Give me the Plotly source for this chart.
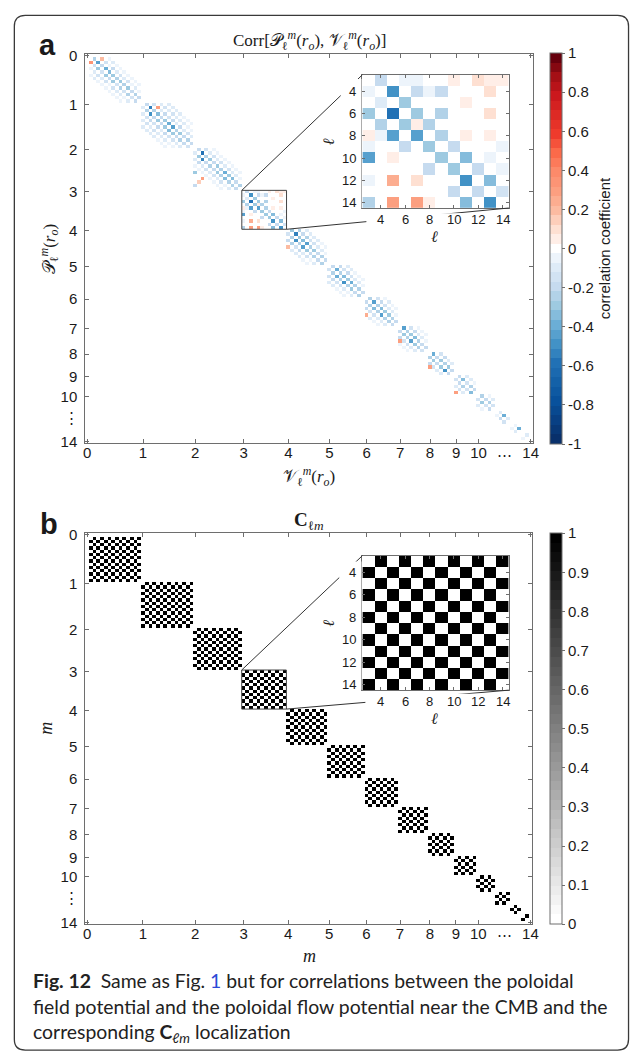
import plotly.graph_objects as go

W, H = 637, 1059

# ---------------- data ----------------
L_MAX = 14
ORDERS = list(range(0, 15))                     # m = 0 .. 14
MAIN_TICK_ORDERS = [0, 1, 2, 3, 4, 5, 6, 7, 8, 9, 10, 14]
MAIN_TICK_TEXT = ["0", "1", "2", "3", "4", "5", "6", "7", "8", "9", "10", "14"]
INSET_ORDER = 3
INSET_L = list(range(3, 15))
INSET_TICKS = [4, 6, 8, 10, 12, 14]

# correlation values along the off-diagonals (degree offset k) inside each m block
# "U": P row l, V column l+k ; "L": P row l+k, V column l ; starting at l = max(m, 1)
BAND1_U = {
    0: [-0.25, -0.45, -0.20, -0.40, -0.35, -0.30, -0.25, -0.30, -0.25, -0.30, -0.20, -0.25, -0.20],
    1: [-0.20, -0.55, -0.25, -0.35, -0.20, -0.30, -0.40, -0.45, -0.25, -0.30, -0.20, -0.25, -0.20],
    2: [-0.20, -0.60, -0.25, -0.30, -0.20, -0.30, -0.25, -0.40, -0.30, -0.35, -0.20, -0.25],
    4: [-0.30, -0.55, -0.30, -0.35, -0.45, -0.25, -0.30, -0.20, -0.25, -0.20],
    5: [-0.20, -0.40, -0.25, -0.35, -0.30, -0.40, -0.25, -0.25, -0.20],
    6: [-0.25, -0.45, -0.25, -0.35, -0.30, -0.30, -0.25, -0.20],
    7: [-0.45, -0.25, -0.30, -0.35, -0.25, -0.20, -0.20],
    8: [-0.40, -0.20, -0.30, -0.25, -0.30, -0.20],
    9: [-0.20, -0.35, -0.15, -0.25, -0.20],
    10: [-0.25, -0.20, -0.25, -0.15],
    11: [-0.10, -0.40, -0.10],
    12: [-0.05, -0.40],
    13: [-0.10],
}
BAND1_L = {
    0: [0.35, -0.15, -0.30, -0.15, -0.30, -0.20, -0.30, -0.15, -0.25, -0.15, -0.25, -0.15, -0.20],
    1: [-0.10, -0.25, -0.50, -0.20, -0.30, -0.20, -0.30, -0.35, -0.30, -0.20, -0.25, -0.20, -0.15],
    2: [-0.10, -0.30, -0.55, -0.20, -0.25, -0.20, -0.30, -0.25, -0.35, -0.25, -0.25, -0.20],
    4: [-0.15, -0.25, -0.50, -0.25, -0.45, -0.30, -0.20, -0.25, -0.20, -0.25],
    5: [-0.15, -0.25, -0.40, -0.25, -0.50, -0.25, -0.30, -0.20, -0.25],
    6: [-0.20, -0.25, -0.35, -0.25, -0.45, -0.25, -0.25, -0.20],
    7: [-0.20, -0.30, -0.25, -0.45, -0.30, -0.25, -0.15],
    8: [-0.25, -0.30, -0.20, -0.30, -0.50, -0.20],
    9: [-0.15, -0.20, -0.25, -0.15, -0.35],
    10: [-0.15, -0.30, -0.15, -0.20],
    11: [-0.05, -0.20, -0.15],
    12: [-0.05, -0.10],
    13: [-0.05],
}
BAND3_U = {
    0: [-0.10, -0.15, -0.05, -0.20, -0.10, -0.15, -0.10, -0.15, -0.05, -0.10, -0.05],
    1: [-0.15, -0.20, -0.10, -0.20, -0.15, -0.20, -0.10, -0.20, -0.10, -0.15, -0.10],
    2: [-0.15, -0.10, -0.15, -0.10, -0.15, -0.10, -0.15, -0.10, -0.10, -0.05],
    4: [-0.25, -0.20, -0.25, -0.15, -0.15, -0.10, -0.10, -0.05],
    5: [-0.20, -0.15, -0.20, -0.15, -0.10, -0.10, -0.05],
    6: [-0.15, -0.20, -0.15, -0.10, -0.10, -0.05],
    7: [-0.15, -0.20, -0.10, -0.10, -0.05],
    8: [-0.15, -0.20, -0.10, -0.10],
    9: [-0.10, -0.10, -0.05],
    10: [-0.05, -0.10],
}
BAND3_L = {
    0: [-0.05, -0.10, -0.15, -0.10, -0.15, -0.05, -0.15, -0.10, -0.10, -0.05, -0.10],
    1: [-0.10, -0.15, -0.20, -0.15, -0.20, -0.10, -0.20, -0.15, -0.15, -0.10, -0.10],
    2: [-0.10, -0.20, -0.10, -0.15, -0.10, -0.15, -0.10, -0.15, -0.05, -0.10],
    4: [-0.20, -0.25, -0.15, -0.20, -0.10, -0.15, -0.05, -0.10],
    5: [-0.15, -0.20, -0.15, -0.15, -0.10, -0.05, -0.10],
    6: [-0.20, -0.15, -0.15, -0.10, -0.10, -0.10],
    7: [-0.20, -0.15, -0.15, -0.10, -0.10],
    8: [-0.20, -0.15, -0.10, -0.10],
    9: [-0.10, -0.15, -0.10],
    10: [-0.10, -0.05],
}
BAND5 = {
    0: [-0.05, -0.08, -0.05, -0.05, -0.05, -0.05, -0.03, -0.03, -0.03],
    1: [-0.10, -0.15, -0.12, -0.15, -0.10, -0.10, -0.08, -0.05, -0.05],
    2: [-0.06, -0.06, -0.05, -0.05, -0.04, -0.04, -0.03, -0.03],
    4: [-0.12, -0.12, -0.08, -0.08, -0.05, -0.05],
    5: [-0.08, -0.08, -0.05, -0.05, -0.03],
    6: [-0.05, -0.08, -0.05, -0.03],
    7: [-0.05, -0.05, -0.03],
}
BAND7 = {
    1: [-0.10, -0.12, -0.10, -0.08, -0.05, -0.05, -0.03],
}
# individual cells: (m, l of P row, l of V column, value)
EXTRA_CELLS = [
    (0, 1, 4, 0.20), (1, 2, 5, 0.30), (2, 11, 4, 0.30), (2, 9, 2, -0.30),
    (2, 13, 2, -0.20), (2, 12, 3, 0.15), (4, 9, 4, 0.20), (6, 11, 6, 0.25),
    (7, 11, 7, 0.30), (8, 12, 8, 0.30), (9, 14, 9, 0.30),
]
# zoomed m = 3 block (rows: P l = 3..14, columns: V l = 3..14)
INSET_CORR = [
    [0.00, -0.20, 0.00, -0.03, -0.07, 0.00, 0.00, 0.04, 0.02, 0.08, 0.06, 0.06],
    [-0.05, 0.00, -0.50, 0.00, -0.20, -0.05, -0.20, 0.00, 0.00, 0.00, 0.12, 0.02],
    [0.00, -0.10, 0.00, -0.30, 0.00, 0.00, 0.00, 0.00, 0.03, 0.00, 0.00, 0.00],
    [-0.30, 0.00, -0.58, 0.00, -0.30, 0.00, -0.22, 0.00, 0.00, 0.00, 0.12, 0.00],
    [0.00, -0.25, 0.00, -0.30, 0.03, -0.22, 0.00, 0.00, 0.00, 0.00, 0.02, 0.00],
    [0.03, -0.05, -0.45, 0.00, -0.42, 0.00, -0.22, 0.00, 0.07, 0.00, 0.07, 0.00],
    [-0.04, 0.00, 0.00, -0.18, 0.00, -0.30, 0.00, -0.20, 0.00, 0.00, 0.00, -0.05],
    [-0.45, 0.00, 0.05, 0.00, 0.00, 0.00, -0.30, 0.00, -0.35, 0.00, -0.05, 0.01],
    [0.00, 0.00, 0.00, 0.00, 0.00, -0.18, 0.00, -0.30, 0.00, -0.20, 0.00, -0.05],
    [-0.05, 0.00, 0.25, 0.00, 0.12, 0.00, 0.00, 0.00, -0.48, 0.00, -0.33, 0.00],
    [0.00, 0.00, 0.00, 0.00, 0.00, 0.00, 0.00, -0.18, 0.00, -0.20, 0.00, -0.15],
    [-0.25, 0.00, 0.30, 0.00, 0.28, 0.03, 0.00, 0.00, -0.33, 0.00, -0.48, 0.00],
]
CBAR_A_TICKS = [1, 0.8, 0.6, 0.4, 0.2, 0, -0.2, -0.4, -0.6, -0.8, -1]
CBAR_A_TEXT = ["1", "0.8", "0.6", "0.4", "0.2", "0", "-0.2", "-0.4", "-0.6", "-0.8", "-1"]
CBAR_B_TICKS = [0, 0.1, 0.2, 0.3, 0.4, 0.5, 0.6, 0.7, 0.8, 0.9, 1]
CBAR_B_TEXT = ["0", "0.1", "0.2", "0.3", "0.4", "0.5", "0.6", "0.7", "0.8", "0.9", "1"]

# ---------------- index of (m, l) ----------------
pairs = []
for m in ORDERS:
    for l in range(0 if m == 0 else m, L_MAX + 1):
        pairs.append((m, l))
N = len(pairs)
pos = {p: i for i, p in enumerate(pairs)}
idx = list(range(1, N + 1))
main_tickvals = [pos[(m, 0 if m == 0 else m)] + 1 for m in MAIN_TICK_ORDERS]

Z = [[0.0] * N for _ in range(N)]


def put(m, lr, lc, v):
    Z[pos[(m, lr)]][pos[(m, lc)]] = v


for bands, k, side in ((BAND1_U, 1, "U"), (BAND1_L, 1, "L"), (BAND3_U, 3, "U"), (BAND3_L, 3, "L"),
                       (BAND5, 5, "UL"), (BAND7, 7, "UL")):
    for m, vals in bands.items():
        l0 = max(m, 1)
        for j, v in enumerate(vals):
            a_, b_ = l0 + j, l0 + j + k
            if b_ <= L_MAX:
                if "U" in side:
                    put(m, a_, b_, v)
                if "L" in side:
                    put(m, b_, a_, v)
for i, lr in enumerate(INSET_L):
    for j, lc in enumerate(INSET_L):
        put(INSET_ORDER, lr, lc, INSET_CORR[i][j])
for (m, lr, lc, v) in EXTRA_CELLS:
    put(m, lr, lc, v)

# C_lm localization: 1 within the same order m where l + l' is odd
C = [[1 if (pairs[r][0] == pairs[c][0] and pairs[r][1] > 0 and pairs[c][1] > 0
            and (pairs[r][1] + pairs[c][1]) % 2 == 1) else 0 for c in range(N)] for r in range(N)]
C_inset = [[C[pos[(INSET_ORDER, lr)]][pos[(INSET_ORDER, lc)]] for lc in INSET_L] for lr in INSET_L]

# ---------------- geometry (pixels) ----------------
BOX_A = (84.3, 47.7, 537.3, 442.3)
INSET_A = (365.0, 68.7, 513.3, 203.7)
BOX_B = (84.3, 533.3, 537.0, 929.3)
INSET_B = (365.0, 556.0, 513.3, 692.3)


def fx(p):
    return p / W


def fy(p):
    return 1 - p / H


def dom(box):
    l, t, r, b = box
    return [fx(l), fx(r)], [fy(b), fy(t)]


def main_px(box, v):
    l, t, r, b = box
    return l + (v - 0.5) / N * (r - l), t + (v - 0.5) / N * (b - t)


def inset_px(box, v):
    l, t, r, b = box
    n = len(INSET_L)
    u = (v - (INSET_L[0] - 0.5)) / n
    return l + u * (r - l), t + u * (b - t)


AX_COL = "#6e6e6e"
TXT = "#1a1a1a"
SANS = "Liberation Sans, Arial, sans-serif"
SERIF = "Liberation Serif, Times New Roman, serif"

CS_A_BASE = [
    [0.0, "#08306b"], [0.1, "#08519c"], [0.2, "#2171b5"], [0.25, "#4292c6"],
    [0.3, "#6baed6"], [0.35, "#9ecae1"], [0.4, "#c6dbef"], [0.45, "#deebf7"],
    [0.485, "#f3f8fc"], [0.5, "#ffffff"], [0.515, "#fff4ef"], [0.55, "#fee0d2"],
    [0.6, "#fcbba1"], [0.65, "#fc9f80"], [0.7, "#fc8a6a"], [0.75, "#fb6a4a"],
    [0.8, "#ef3b2c"], [0.9, "#cb181d"], [0.95, "#a50f15"], [1.0, "#67000d"],
]
CS_B_BASE = [[0.0, "#ffffff"], [1.0, "#000000"]]


def _hex(c):
    c = c.lstrip("#")
    return [int(c[i:i + 2], 16) for i in (0, 2, 4)]


def _interp(cs, t):
    for (p0, c0), (p1, c1) in zip(cs[:-1], cs[1:]):
        if p0 <= t <= p1:
            u = 0 if p1 == p0 else (t - p0) / (p1 - p0)
            a, b = _hex(c0), _hex(c1)
            return "rgb(%d,%d,%d)" % tuple(round(a[i] + (b[i] - a[i]) * u) for i in range(3))
    return cs[-1][1]


def stepped(cs, n):
    out = []
    for k in range(n):
        col = _interp(cs, k / (n - 1))
        out.append([k / n, col])
        out.append([(k + 1) / n, col])
    return out


CS_A = stepped(CS_A_BASE, 41)
CS_B = stepped(CS_B_BASE, 41)

fig = go.Figure()


def cbar(box_px, ticks, text, title):
    l, t, r, b = box_px
    d = dict(x=fx(l), xanchor="left", y=fy(t), yanchor="top", len=(b - t) / H, lenmode="fraction",
             thickness=r - l, thicknessmode="pixels", xpad=0, ypad=0,
             outlinecolor=AX_COL, outlinewidth=1, tickmode="array", tickvals=ticks, ticktext=text,
             ticks="outside", ticklen=3, tickcolor=AX_COL,
             tickfont=dict(family=SANS, size=15, color=TXT))
    if title:
        d["title"] = dict(text=title, side="right", font=dict(family=SANS, size=15, color=TXT))
    return d


fig.add_trace(go.Heatmap(x=idx, y=idx, z=Z, colorscale=CS_A, zmin=-1, zmax=1, xaxis="x", yaxis="y",
                         colorbar=cbar((554.5, 46.7, 566.7, 442.7), CBAR_A_TICKS, CBAR_A_TEXT,
                                       "correlation coefficient"), hoverinfo="skip"))
fig.add_trace(go.Heatmap(x=INSET_L, y=INSET_L, z=INSET_CORR, colorscale=CS_A, zmin=-1, zmax=1,
                         showscale=False, xaxis="x2", yaxis="y2", hoverinfo="skip"))
fig.add_trace(go.Heatmap(x=idx, y=idx, z=C, colorscale=CS_B, zmin=0, zmax=1, xaxis="x3", yaxis="y3",
                         colorbar=cbar((555.0, 533.3, 566.5, 929.3), CBAR_B_TICKS, CBAR_B_TEXT, None),
                         hoverinfo="skip"))
fig.add_trace(go.Heatmap(x=INSET_L, y=INSET_L, z=C_inset, colorscale=CS_B, zmin=0, zmax=1,
                         showscale=False, xaxis="x4", yaxis="y4", hoverinfo="skip"))


def main_axis(domain, rng, anchor, standoff):
    return dict(domain=domain, range=rng, anchor=anchor, tickmode="array", tickvals=main_tickvals,
                ticktext=MAIN_TICK_TEXT, ticks="inside", ticklen=4, tickcolor=AX_COL, showline=True,
                linecolor=AX_COL, linewidth=1, mirror="allticks", showgrid=False, zeroline=False,
                tickfont=dict(family=SANS, size=15, color=TXT), ticklabelstandoff=standoff,
                fixedrange=True)


def inset_axis(domain, rng, anchor):
    return dict(domain=domain, range=rng, anchor=anchor, tickmode="array", tickvals=INSET_TICKS,
                ticks="inside", ticklen=3, tickcolor=AX_COL, showline=True, linecolor=AX_COL,
                linewidth=1, mirror="allticks", showgrid=False, zeroline=False, showticklabels=False,
                fixedrange=True)


dxa, dya = dom(BOX_A)
dxia, dyia = dom(INSET_A)
dxb, dyb = dom(BOX_B)
dxib, dyib = dom(INSET_B)
rng_main = [0.5, N + 0.5]
rng_main_r = [N + 0.5, 0.5]
rng_in = [INSET_L[0] - 0.5, INSET_L[-1] + 0.5]
rng_in_r = [INSET_L[-1] + 0.5, INSET_L[0] - 0.5]

fig.update_layout(
    width=W, height=H, autosize=False, margin=dict(l=0, r=0, t=0, b=0, pad=0),
    paper_bgcolor="white", plot_bgcolor="white", showlegend=False,
    xaxis=main_axis(dxa, rng_main, "y", -4),
    yaxis=main_axis(dya, rng_main_r, "x", 4),
    xaxis2=inset_axis(dxia, rng_in, "y2"),
    yaxis2=inset_axis(dyia, rng_in_r, "x2"),
    xaxis3=main_axis(dxb, rng_main, "y3", -4),
    yaxis3=main_axis(dyb, rng_main_r, "x3", 4),
    xaxis4=inset_axis(dxib, rng_in, "y4"),
    yaxis4=inset_axis(dyib, rng_in_r, "x4"),
)

# ---------------- shapes ----------------
shapes = []
# rounded frame
L_, T_, R_, B_ = 12.5, 8.5, 634.5, 1057.0
r_ = 11
path = (f"M {fx(L_ + r_)},{fy(T_)} L {fx(R_ - r_)},{fy(T_)} Q {fx(R_)},{fy(T_)} {fx(R_)},{fy(T_ + r_)} "
        f"L {fx(R_)},{fy(B_ - r_)} Q {fx(R_)},{fy(B_)} {fx(R_ - r_)},{fy(B_)} "
        f"L {fx(L_ + r_)},{fy(B_)} Q {fx(L_)},{fy(B_)} {fx(L_)},{fy(B_ - r_)} "
        f"L {fx(L_)},{fy(T_ + r_)} Q {fx(L_)},{fy(T_)} {fx(L_ + r_)},{fy(T_)} Z")
shapes.append(dict(type="path", path=path, xref="paper", yref="paper",
                   line=dict(color="#3a3a3a", width=1.3), layer="below"))

blk0 = pos[(INSET_ORDER, INSET_ORDER)] + 1 - 0.5
blk1 = pos[(INSET_ORDER, L_MAX)] + 1 + 0.5
for box, inset, xr, yr, masks in (
        (BOX_A, INSET_A, "x", "y", [(343.0, 73.0, 364.0, 204.0), (369.0, 209.0, 522.0, 240.0)]),
        (BOX_B, INSET_B, "x3", "y3", [(341.5, 562.0, 364.0, 692.0), (368.0, 696.0, 522.0, 727.0)])):
    shapes.append(dict(type="rect", xref=xr, yref=yr, x0=blk0, x1=blk1, y0=blk0, y1=blk1,
                       line=dict(color="#444444", width=1), layer="above"))
    p0 = main_px(box, blk0)
    p1 = main_px(box, blk1)
    shapes.append(dict(type="line", xref="paper", yref="paper", x0=fx(p0[0]), y0=fy(p0[1]),
                       x1=fx(inset[0]), y1=fy(inset[1]), line=dict(color="#333333", width=1), layer="above"))
    shapes.append(dict(type="line", xref="paper", yref="paper", x0=fx(p1[0]), y0=fy(p1[1]),
                       x1=fx(inset[2]), y1=fy(inset[3]), line=dict(color="#333333", width=1), layer="above"))
    for (ml, mt, mr, mb) in masks:
        shapes.append(dict(type="rect", xref="paper", yref="paper", x0=fx(ml), x1=fx(mr), y0=fy(mb), y1=fy(mt),
                           line=dict(width=0), fillcolor="white", layer="above"))

# ---------------- annotations ----------------
ann = []


def text(x, y, s, size=15, family=SANS, xanchor="center", yanchor="middle", angle=0, color=TXT):
    ann.append(dict(x=fx(x), y=fy(y), text=s, xref="paper", yref="paper", showarrow=False, xanchor=xanchor,
                    yanchor=yanchor, textangle=angle, font=dict(family=family, size=size, color=color)))


# panel letters
text(46.5, 39, "<b>a</b>", size=29)
text(47.5, 524, "<b>b</b>", size=29)
# titles
text(311, 34, "Corr[𝒫<sub>ℓ</sub><sup><i>m</i></sup>(<i>r</i><sub><i>o</i></sub>), "
              "𝒱<sub>ℓ</sub><sup><i>m</i></sup>(<i>r</i><sub><i>o</i></sub>)]", size=17, family=SERIF)
text(311, 521, "<b>C</b><sub>ℓ<i>m</i></sub>", size=19, family=SERIF)
# axis labels
text(311, 476, "𝒱<sub>ℓ</sub><sup><i>m</i></sup>(<i>r</i><sub><i>o</i></sub>)", size=17, family=SERIF)
text(48, 245, "𝒫<sub>ℓ</sub><sup><i>m</i></sup>(<i>r</i><sub><i>o</i></sub>)", size=17, family=SERIF, angle=-90)
text(311, 962, "<i>m</i>", size=18, family=SERIF)
text(45, 731, "<i>m</i>", size=18, family=SERIF, angle=-90)
# ellipsis tick labels (positions through the main-axis scale)
for box in (BOX_A, BOX_B):
    text(main_px(box, 113)[0], box[3] + 11, "⋯", size=15)
    text(box[0] - 14, main_px(box, 112.5)[1], "⋮", size=15)
# inset tick labels and labels (positions through the inset-axis scale)
for inset in (INSET_A, INSET_B):
    for t in INSET_TICKS:
        text(inset_px(inset, t)[0], inset[3] + 11.5, str(t), size=13)
        text(inset[0] - 4, inset_px(inset, t)[1], str(t), size=13, xanchor="right")
    text(438.5, inset[3] + 29, "<i>ℓ</i>", size=16, family=SERIF)
    text(331, (inset[1] + inset[3]) / 2, "<i>ℓ</i>", size=16, family=SERIF, angle=-90)
# caption
CAP = "Lato, Open Sans, sans-serif"
CAP_SIZE = 19.4
text(29, 987, "<b>Fig. 12</b>\u2002Same as Fig. <span style='color:#2b49d6'>1</span> but for "
              "correlations between the poloidal", size=CAP_SIZE, family=CAP, xanchor="left", color="#222222")
text(29, 1013, "field potential and the poloidal flow potential near the CMB and the", size=CAP_SIZE,
     family=CAP, xanchor="left", color="#222222")
text(29, 1040, "corresponding <b>C</b><sub><i>ℓm</i></sub> localization", size=CAP_SIZE, family=CAP,
     xanchor="left", color="#222222")

fig.update_layout(shapes=shapes, annotations=ann)
fig.write_html("out.html")
